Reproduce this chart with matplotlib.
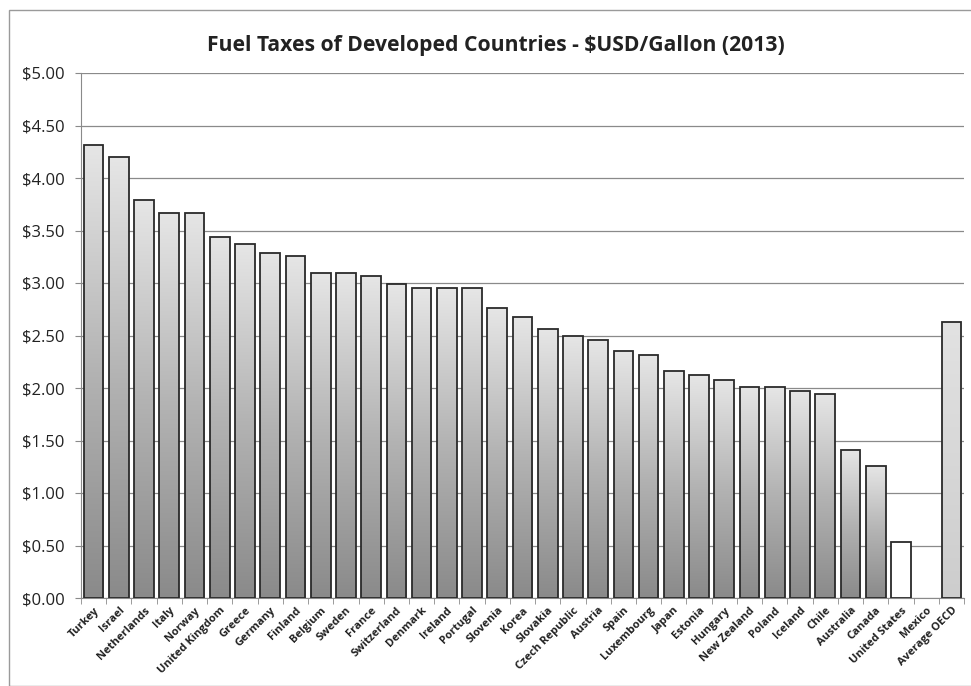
import matplotlib
matplotlib.use("Agg")
import matplotlib.pyplot as plt
import numpy as np
from matplotlib.patches import Rectangle
from matplotlib.colors import LinearSegmentedColormap

countries = ["Turkey", "Israel", "Netherlands", "Italy", "Norway", "United Kingdom",
             "Greece", "Germany", "Finland", "Belgium", "Sweden", "France",
             "Switzerland", "Denmark", "Ireland", "Portugal", "Slovenia", "Korea",
             "Slovakia", "Czech Republic", "Austria", "Spain", "Luxembourg", "Japan",
             "Estonia", "Hungary", "New Zealand", "Poland", "Iceland", "Chile",
             "Australia", "Canada", "United States", "Mexico", "Average OECD"]
taxes = [4.31, 4.20, 3.79, 3.67, 3.67, 3.44, 3.37, 3.29, 3.26, 3.10, 3.10, 3.07,
         2.99, 2.95, 2.95, 2.95, 2.76, 2.68, 2.56, 2.50, 2.46, 2.35, 2.31, 2.16,
         2.12, 2.08, 2.01, 2.01, 1.97, 1.94, 1.41, 1.26, 0.53, 0.0, 2.63]
yticks = [0, 0.5, 1.0, 1.5, 2.0, 2.5, 3.0, 3.5, 4.0, 4.5, 5.0]
ytick_labels = ["$0.00", "$0.50", "$1.00", "$1.50", "$2.00", "$2.50",
                "$3.00", "$3.50", "$4.00", "$4.50", "$5.00"]
title = "Fuel Taxes of Developed Countries - $USD/Gallon (2013)"

plt.rcParams['font.family'] = ['Open Sans', 'DejaVu Sans']

fig = plt.figure(figsize=(9.71, 6.86), dpi=100)
ax = fig.add_axes([81/971, 1-598/686, (964-81)/971, (598-73)/686])

# outer chart border
fig.patches.append(Rectangle((9/971, 0), 1, 1-10/686, transform=fig.transFigure,
                             fill=False, edgecolor="#9a9a9a", linewidth=1.0))

x = np.arange(len(countries))
bars = ax.bar(x, taxes, width=0.78, facecolor="none", edgecolor="#2a2a2a",
              linewidth=1.3, zorder=3)

cmap_main = LinearSegmentedColormap.from_list("g", ["#8a8a8a", "#b3b3b3", "#e6e6e6"])
cmap_avg = LinearSegmentedColormap.from_list("a", ["#cdcdcd", "#e2e2e2"])
grad = np.linspace(0, 1, 256).reshape(-1, 1)
for i, b in enumerate(bars):
    h = b.get_height()
    if h <= 0:
        b.set_edgecolor("none")
        continue
    name = countries[i]
    x0 = b.get_x()
    w = b.get_width()
    if name == "United States":
        ax.add_patch(Rectangle((x0, 0), w, h, facecolor="white", edgecolor="none", zorder=2))
        continue
    cm = cmap_avg if name == "Average OECD" else cmap_main
    im = ax.imshow(grad, cmap=cm, aspect="auto", origin="lower",
                   extent=(x0, x0 + w, 0, h), zorder=2, interpolation="bilinear")
    clip = Rectangle((x0, 0), w, h, transform=ax.transData)
    im.set_clip_path(clip)

ax.set_xlim(-0.5, len(countries) - 0.5)
ax.set_ylim(0, 5)
ax.set_yticks(yticks)
ax.set_yticklabels(ytick_labels, fontsize=12, color="#222222")
ax.yaxis.grid(True, color="#8a8a8a", linewidth=0.9, zorder=0)
ax.set_axisbelow(True)

ax.set_xticks(x)
ax.set_xticklabels(countries, rotation=45, ha="right", rotation_mode="anchor",
                   fontsize=8, fontweight="bold", color="#222222")
ax.tick_params(axis="x", length=0, pad=5)
ax.set_xticks(np.arange(-0.5, len(countries), 1), minor=True)
ax.tick_params(axis="x", which="minor", length=4, color="#8a8a8a")
ax.tick_params(axis="y", length=4, color="#8a8a8a", pad=8)

for s in ["top", "right"]:
    ax.spines[s].set_visible(False)
ax.spines["left"].set_color("#8a8a8a")
ax.spines["bottom"].set_color("#8a8a8a")

fig.text(0.5 + 10/971, 1 - 45/686, title, ha="center", va="center",
         fontsize=15.2, fontweight="bold", color="#222222")

fig.savefig("out.png", dpi=100, facecolor="white")
